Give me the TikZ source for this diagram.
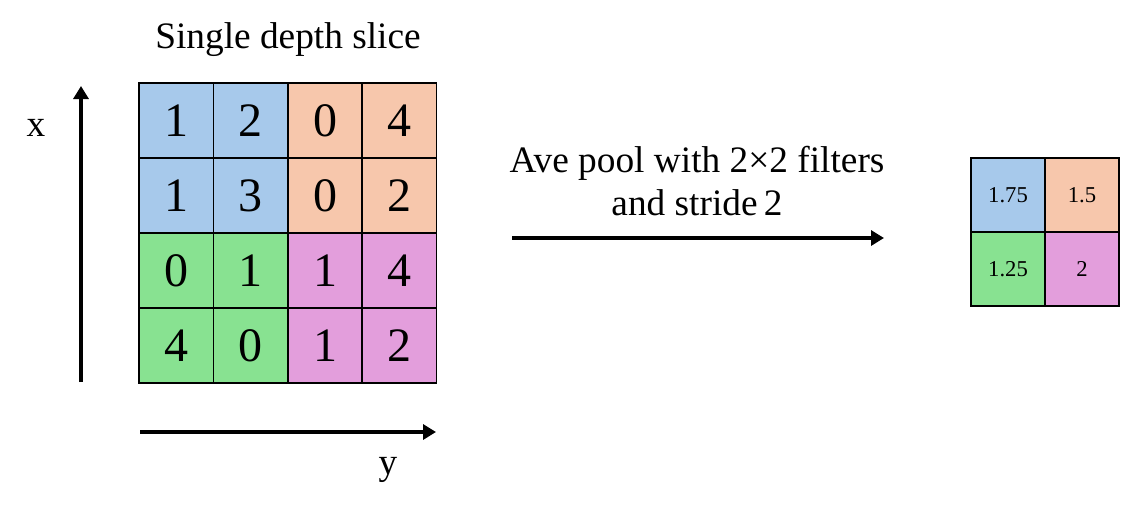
\documentclass[tikz,border=0pt]{standalone}
\usepackage{fontspec}
\setmainfont{Liberation Serif}
\usepackage{xcolor}
\usetikzlibrary{arrows.meta}
\definecolor{cellblue}{RGB}{167,201,235}
\definecolor{cellorange}{RGB}{247,199,172}
\definecolor{cellgreen}{RGB}{136,226,145}
\definecolor{cellpink}{RGB}{227,158,220}
\tikzset{
  cell/.style={draw, line width=1.2pt, minimum width=55.7pt, minimum height=56.2pt,
    inner sep=0pt, font=\fontsize{36}{36}\selectfont},
  outcell/.style={draw, line width=1.2pt, minimum width=55.5pt, minimum height=55.5pt,
    inner sep=0pt, font=\fontsize{17}{17}\selectfont},
  label/.style={font=\fontsize{28}{32}\selectfont, align=center},
  axis/.style={line width=3pt, -{Triangle[length=9.75pt, width=11.25pt]}}
}
\begin{document}
\begin{tikzpicture}[x=0.75pt,y=-0.75pt]
\useasboundingbox (0,0) rectangle (1122,515);
% input slice
\node[cell,fill=cellblue]   (c11) at (176.4,120.5) {1};
\node[cell,fill=cellblue]   (c12) at (250.7,120.5) {2};
\node[cell,fill=cellorange] (c13) at (325.0,120.5) {0};
\node[cell,fill=cellorange] (c14) at (399.3,120.5) {4};
\node[cell,fill=cellblue]   (c21) at (176.4,195.5) {1};
\node[cell,fill=cellblue]   (c22) at (250.7,195.5) {3};
\node[cell,fill=cellorange] (c23) at (325.0,195.5) {0};
\node[cell,fill=cellorange] (c24) at (399.3,195.5) {2};
\node[cell,fill=cellgreen]  (c31) at (176.4,270.5) {0};
\node[cell,fill=cellgreen]  (c32) at (250.7,270.5) {1};
\node[cell,fill=cellpink]   (c33) at (325.0,270.5) {1};
\node[cell,fill=cellpink]   (c34) at (399.3,270.5) {4};
\node[cell,fill=cellgreen]  (c41) at (176.4,345.5) {4};
\node[cell,fill=cellgreen]  (c42) at (250.7,345.5) {0};
\node[cell,fill=cellpink]   (c43) at (325.0,345.5) {1};
\node[cell,fill=cellpink]   (c44) at (399.3,345.5) {2};
\node[label] (title) at (288,40) {Single depth slice};
% axes
\coordinate (xstart) at (81,382);
\coordinate (xend) at (81,86);
\draw[axis] (xstart) -- (xend);
\node[label] (xlab) at (36,128) {x};
\coordinate (ystart) at (140,432);
\coordinate (yend) at (436,432);
\draw[axis] (ystart) -- (yend);
\node[label] (ylab) at (388,470) {y};
% pooling step
\node[label] (pool) at (697,181) {Ave pool with 2×2 filters\\and stride\,2};
\coordinate (pstart) at (512,238);
\coordinate (pend) at (884,238);
\draw[axis] (pstart) -- (pend);
% output
\node[outcell,fill=cellblue]   (o11) at (1008,195) {1.75};
\node[outcell,fill=cellorange] (o12) at (1082,195) {1.5};
\node[outcell,fill=cellgreen]  (o21) at (1008,269) {1.25};
\node[outcell,fill=cellpink]   (o22) at (1082,269) {2};
\end{tikzpicture}
\end{document}
